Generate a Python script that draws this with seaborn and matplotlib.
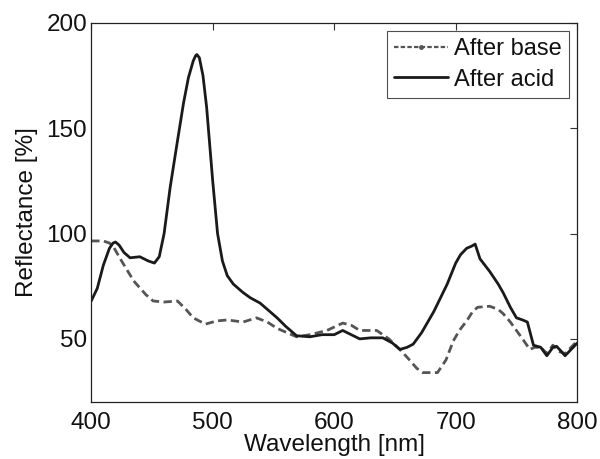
import numpy as np
import pandas as pd
import seaborn as sns
import matplotlib.pyplot as plt
from matplotlib.lines import Line2D


wl_acid = [400, 405, 410, 415, 418, 420, 423, 427, 432, 440, 447, 452, 456, 460, 465, 471,
           476, 480, 484, 486, 487, 489, 492, 495, 500, 504, 508, 512, 517, 525, 531, 539,
           546, 553, 560, 569, 580, 590, 600, 607, 614, 621, 630, 640, 648, 654, 660, 665,
           672, 682, 693, 700, 704, 709, 713, 716, 720, 728, 735, 739, 745, 750, 755, 759,
           764, 770, 775, 780, 783, 787, 790, 795, 800]
refl_acid = [68, 74, 85, 93, 95.5, 96, 94.5, 91, 88.5, 89, 87, 86, 89, 100, 122, 144,
             162, 174, 182, 184.5, 185, 183.5, 175, 160, 125, 100, 87, 80, 76, 72, 69.5, 67,
             63.5, 60, 56, 51.5, 51, 52, 52, 54, 52, 50, 50.5, 50.5, 48, 45, 46, 47.5,
             53, 63, 76, 86, 90, 93, 94, 95, 88, 82, 76, 72, 65, 60, 59, 58,
             47, 46, 42, 46, 46.5, 44, 42, 45, 48]

wl_base = [400, 410, 415, 418, 425, 435, 445, 451, 460, 471, 478, 484, 494, 503, 512, 525,
           536, 545, 553, 561, 569, 580, 594, 607, 614, 621, 635, 645, 654, 662, 668, 673,
           685, 692, 698, 703, 709, 714, 718, 728, 735, 739, 745, 750, 755, 761, 765, 770,
           775, 780, 785, 790, 795, 800]
refl_base = [96.5, 96.5, 95.5, 94, 87, 77.5, 71, 68, 67.5, 68, 64, 60, 57, 58.5, 59, 58,
             60, 58, 55, 53, 51, 52, 54, 57.5, 56.5, 54, 54, 50, 45, 40, 36, 34,
             34, 40, 49, 54, 58.5, 63, 65, 65.5, 64, 62, 58, 54, 50, 45, 46, 46,
             43, 47, 44, 43, 46, 49]

labels = ["After base", "After acid"]

sns.set_style("white")
plt.rcParams['font.family'] = ['Liberation Sans', 'DejaVu Sans']

fig = plt.figure(figsize=(6, 4.59), dpi=100)
ax = fig.add_axes([0.152, 0.124, 0.81, 0.826])

base_df = pd.DataFrame({"wl": wl_base, "r": refl_base})
acid_df = pd.DataFrame({"wl": wl_acid, "r": refl_acid})

sns.lineplot(data=base_df, x="wl", y="r", ax=ax, color="#555555", lw=2, ls=(0, (3, 1.6)))
sns.lineplot(data=acid_df, x="wl", y="r", ax=ax, color="#1a1a1a", lw=2)

ax.set_xlim(400, 800)
ax.set_ylim(20, 200)
ax.set_xticks([400, 500, 600, 700, 800])
ax.set_yticks([50, 100, 150, 200])
ax.tick_params(direction="in", top=True, right=True, labelsize=17.5, length=5, width=0.8,
               color="#333333", labelcolor="#111111")
ax.tick_params(axis="x", pad=7)
ax.tick_params(axis="y", pad=3)
for s in ax.spines.values():
    s.set_linewidth(0.9)
    s.set_color("#222222")
ax.set_xlabel("Wavelength [nm]", fontsize=17.5, labelpad=0, color="#111111")
ax.set_ylabel("Reflectance [%]", fontsize=17.5, labelpad=6, color="#111111")

handles = [Line2D([], [], color="#555555", lw=1.6, ls=(0, (2, 1)), marker=".", markersize=5),
           Line2D([], [], color="#1a1a1a", lw=2)]
leg = ax.legend(handles, labels, loc="upper right", fontsize=17, frameon=True, fancybox=False,
                borderpad=0.3, handlelength=2.3, handletextpad=0.25, labelspacing=0.35,
                borderaxespad=0.35)
leg.get_frame().set_edgecolor("#222222")
leg.get_frame().set_linewidth(0.8)
for t in leg.get_texts():
    t.set_color("#111111")

plt.savefig("out.png", dpi=100)
